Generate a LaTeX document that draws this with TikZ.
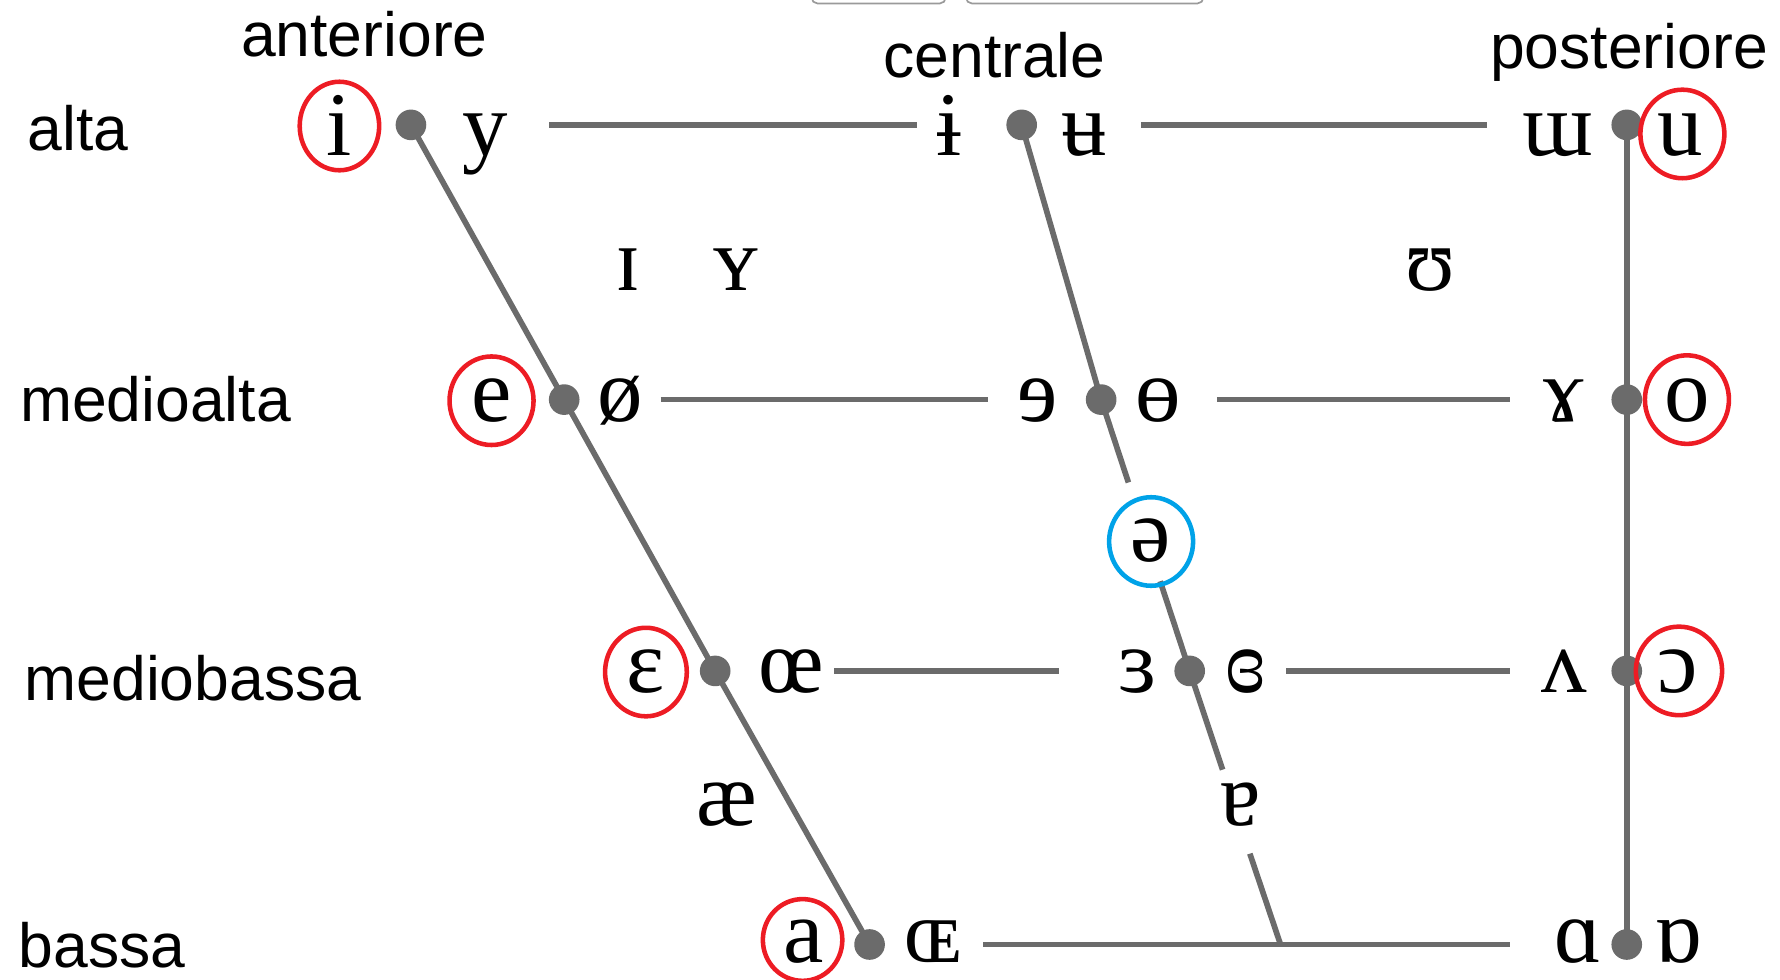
\documentclass[tikz,border=0pt]{standalone}
\usepackage{fontspec}
\setmainfont{Liberation Serif}
\newfontfamily\labfont{Liberation Sans}
\newfontfamily\ipafont{Liberation Serif}
\usetikzlibrary{shapes.geometric}
\definecolor{lgray}{HTML}{6B6B6B}
\definecolor{ringred}{HTML}{ED1C24}
\definecolor{ringblue}{HTML}{00A2E8}
\definecolor{boxgray}{HTML}{9A9A9A}
\begin{document}
\begin{tikzpicture}[x=1pt,y=-1pt,
  lab/.style={font=\labfont\fontsize{55}{60}\selectfont, inner sep=0pt, anchor=base},
  sym/.style={font=\ipafont\fontsize{80}{90}\selectfont, inner sep=0pt, anchor=base},
  grayline/.style={draw=lgray, line width=5pt},
  vdot/.style={circle, fill=lgray, inner sep=0pt, minimum size=27pt},
  redring/.style={ellipse, draw=ringred, line width=4pt, inner sep=0pt, minimum width=70pt, minimum height=78pt},
  bluering/.style={ellipse, draw=ringblue, line width=4pt, inner sep=0pt, minimum width=74pt, minimum height=78pt},
  topbox/.style={draw=boxgray, line width=1.5pt, rounded corners=5pt}]
\useasboundingbox (0,0) rectangle (1568,863);

% partial boxes at the top edge
\draw[topbox] (715,-20) rectangle (833,3);
\draw[topbox] (851,-20) rectangle (1060,3);

% labels
\node[lab] (lalta) at (69,133) {alta};
\node[lab] (lmalta) at (137,371) {medioalta};
\node[lab] (lmbassa) at (170,617) {mediobassa};
\node[lab] (lbassa) at (90,852) {bassa};
\node[lab] (lant) at (321,50) {anteriore};
\node[lab] (lcen) at (876,68) {centrale};
\node[lab] (lpos) at (1435,60) {posteriore};

% dots
\node[vdot] (f1) at (362,110) {};
\node[vdot] (f2) at (497,352) {};
\node[vdot] (f3) at (630,591) {};
\node[vdot] (f4) at (766,832) {};
\node[vdot] (c1) at (900,110) {};
\node[vdot] (c2) at (970,352) {};
\node[vdot] (c3) at (1048,591) {};
\node[vdot] (b1) at (1433,110) {};
\node[vdot] (b2) at (1433,352) {};
\node[vdot] (b3) at (1433,591) {};
\node[vdot] (b4) at (1433,832) {};
\coordinate (c4) at (1128,832);

% connector end points
\coordinate (ca) at (994,425);
\coordinate (cb) at (1022,512);
\coordinate (cc) at (1077,678);
\coordinate (cd) at (1101,752);
\coordinate (h1a) at (484,110);  \coordinate (h1b) at (808,110);
\coordinate (h1c) at (1005,110); \coordinate (h1d) at (1310,110);
\coordinate (h2a) at (582,352);  \coordinate (h2b) at (870,352);
\coordinate (h2c) at (1072,352); \coordinate (h2d) at (1330,352);
\coordinate (h3a) at (735,591);  \coordinate (h3b) at (933,591);
\coordinate (h3c) at (1133,591); \coordinate (h3d) at (1330,591);
\coordinate (h4a) at (866,832);  \coordinate (h4b) at (1330,832);

% connectors
\draw[grayline] (f1.center) -- (f2.center) -- (f3.center) -- (f4.center);
\draw[grayline] (c1.center) -- (c2.center) -- (ca);
\draw[grayline] (cb) -- (c3.center) -- (cc);
\draw[grayline] (cd) -- (c4);
\draw[grayline] (b1.center) -- (b2.center) -- (b3.center) -- (b4.center);
\draw[grayline] (h1a) -- (h1b);
\draw[grayline] (h1c) -- (h1d);
\draw[grayline] (h2a) -- (h2b);
\draw[grayline] (h2c) -- (h2d);
\draw[grayline] (h3a) -- (h3b);
\draw[grayline] (h3c) -- (h3d);
\draw[grayline] (h4a) -- (h4b);

% vowel symbols
\node[sym] (v_i) at (299,137) {i};
\node[sym] (v_y) at (427,137) {y};
\node[sym] (v_ib) at (836,137) {ɨ};
\node[sym] (v_ub) at (955,137) {ʉ};
\node[sym] (v_mu) at (1372,137) {ɯ};
\node[sym] (v_u) at (1480,137) {u};
\node[sym] (v_I) at (553,256) {ɪ};
\node[sym] (v_Y) at (648,256) {ʏ};
\node[sym] (v_U) at (1260,256) {ʊ};
\node[sym] (v_e) at (433,371) {e};
\node[sym] (v_oe) at (546,371) {ø};
\node[sym] (v_er) at (914,371) {ɘ};
\node[sym] (v_ob) at (1020,371) {ɵ};
\node[sym] (v_ga) at (1377,371) {ɤ};
\node[sym] (v_o) at (1486,371) {o};
\node[sym] (v_schwa) at (1014,495) {ə};
\node[sym] (v_eps) at (569,610) {ɛ};
\node[sym] (v_oelig) at (697,610) {œ};
\node[sym] (v_reps) at (1002,610) {ɜ};
\node[sym] (v_cre) at (1097,610) {ɞ};
\node[sym] (v_vv) at (1378,610) {ʌ};
\node[sym] (v_oo) at (1478,610) {ɔ};
\node[sym] (v_ae) at (640,727) {æ};
\node[sym] (v_ta) at (1093,727) {ɐ};
\node[sym] (v_a) at (708,848) {a};
\node[sym] (v_OE) at (822,848) {ɶ};
\node[sym] (v_al) at (1390,848) {ɑ};
\node[sym] (v_ra) at (1478,848) {ɒ};

% rings
\node[redring] (r_i) at (299,111) {};
\node[redring, minimum width=74pt] (r_e) at (433,353) {};
\node[redring, minimum width=72pt] (r_eps) at (569,592) {};
\node[redring, minimum height=72pt] (r_a) at (707,828) {};
\node[redring, minimum width=74pt] (r_u) at (1482,118) {};
\node[redring, minimum width=74pt] (r_o) at (1486,352) {};
\node[redring, minimum width=76pt] (r_oo) at (1479,591) {};
\node[bluering] (r_schwa) at (1014,477) {};
\end{tikzpicture}
\end{document}
